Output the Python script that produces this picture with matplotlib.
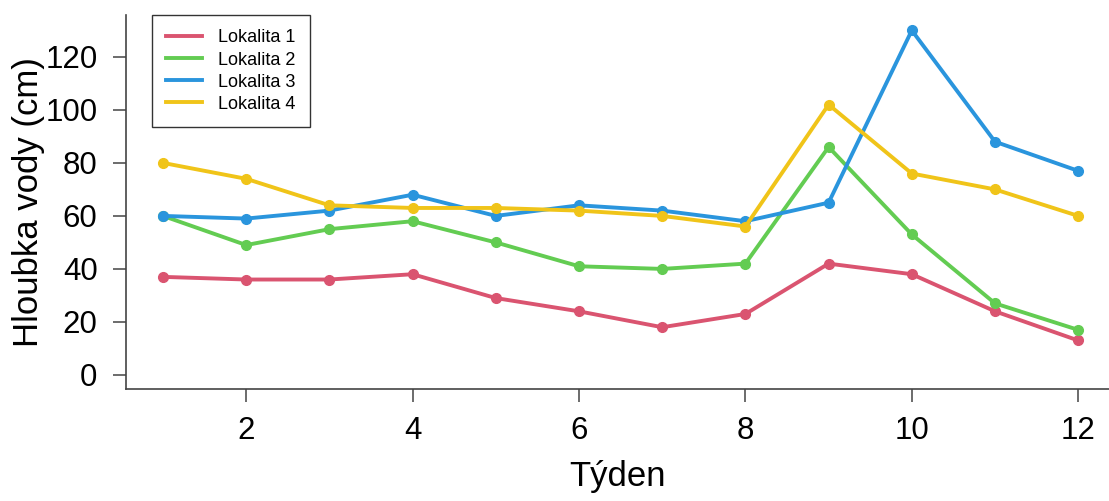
import matplotlib
matplotlib.use("Agg")
import matplotlib.pyplot as plt

plt.rcParams['font.family'] = ['Liberation Sans', 'DejaVu Sans']

# data
weeks = list(range(1, 13))
lok1 = [37, 36, 36, 38, 29, 24, 18, 23, 42, 38, 24, 13]
lok2 = [60, 49, 55, 58, 50, 41, 40, 42, 86, 53, 27, 17]
lok3 = [60, 59, 62, 68, 60, 64, 62, 58, 65, 130, 88, 77]
lok4 = [80, 74, 64, 63, 63, 62, 60, 56, 102, 76, 70, 60]
names = ["Lokalita 1", "Lokalita 2", "Lokalita 3", "Lokalita 4"]
colors = ["#DA5470", "#63CC52", "#2A95DD", "#F0C419"]  # R 4 palette, a bit muted
x_ticks = [2, 4, 6, 8, 10, 12]
y_ticks = [0, 20, 40, 60, 80, 100, 120]

fig = plt.figure(figsize=(11.09, 5.01), dpi=100)
ax = fig.add_axes([0.1136, 0.2236, 0.8864, 0.7464])

for vals, name, col in zip([lok1, lok2, lok3, lok4], names, colors):
    ax.plot(weeks, vals, color=col, lw=2.8, marker='o', ms=7, label=name)

ax.set_xlim(0.555, 12.37)
ax.set_ylim(-5.3, 135.8)
ax.set_xticks(x_ticks)
ax.set_yticks(y_ticks)

# R style "L" box
for s in ['top', 'right']:
    ax.spines[s].set_visible(False)
for s in ['left', 'bottom']:
    ax.spines[s].set_color('#444444')
    ax.spines[s].set_linewidth(1.2)
ax.tick_params(axis='both', direction='out', length=9.5, width=1.1,
               color='#444444', labelsize=22.5)
ax.tick_params(axis='y', pad=11)
ax.tick_params(axis='x', pad=10)

ax.set_xlabel("Týden", fontsize=25, labelpad=10)
ax.set_ylabel("Hloubka vody (cm)", fontsize=25, labelpad=0.5)

leg = ax.legend(loc='upper left', bbox_to_anchor=(0.026, 1.0), fontsize=13,
                fancybox=False, framealpha=1, edgecolor='#333333',
                borderaxespad=0, handlelength=2.0, labelspacing=0.28,
                borderpad=0.8, handletextpad=0.9)
leg.get_frame().set_linewidth(1.0)
for h in leg.legend_handles:
    h.set_marker('')

fig.savefig("out.png", dpi=100)
